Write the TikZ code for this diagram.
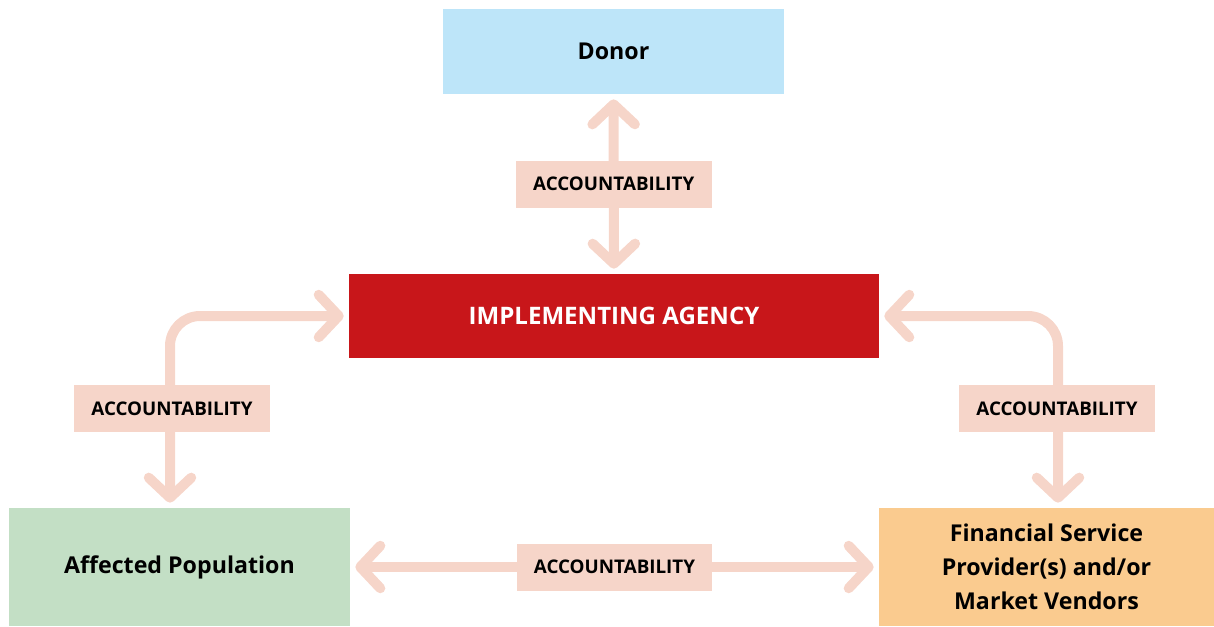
\documentclass[tikz,border=0pt]{standalone}
\usepackage{fontspec}
\setmainfont{Open Sans}
\usetikzlibrary{arrows.meta, positioning}

\definecolor{donorblue}{HTML}{BDE5F9}
\definecolor{agencyred}{HTML}{C8161A}
\definecolor{popgreen}{HTML}{C3DFC5}
\definecolor{fsporange}{HTML}{FACB8F}
\definecolor{accsalmon}{HTML}{F6D5C9}

\begin{document}
\begin{tikzpicture}[
      x=0.02cm, y=-0.02cm,
      box/.style={inner sep=0pt, align=center, font=\fontsize{13.2}{19.3}\selectfont\bfseries},
      lab/.style={fill=accsalmon, inner sep=0pt, minimum width=3.92cm, minimum height=0.94cm, font=\fontsize{10.7}{12}\selectfont\bfseries},
      arr/.style={{Straight Barb[length=0.4cm, width=0.85cm, round]}-{Straight Barb[length=0.4cm, width=0.85cm, round]}, line width=0.2cm, draw=accsalmon, shorten <=0.1cm, shorten >=0.1cm}
    ]
      \useasboundingbox (0,0) rectangle (1214,626);

      \node[box, fill=donorblue, minimum width=6.82cm, minimum height=1.7cm]  (donor)  at (613.5,51.5) {Donor};
      \node[box, fill=agencyred, text=white, minimum width=10.6cm, minimum height=1.68cm, font=\fontsize{13.7}{16}\selectfont\bfseries] (agency) at (614,316) {IMPLEMENTING AGENCY};
      \node[box, fill=popgreen, minimum width=6.82cm, minimum height=2.36cm]  (pop)    at (179.5,567) {Affected Population};
      \node[box, fill=fsporange, minimum width=6.7cm, minimum height=2.36cm]  (fsp)    at (1046.5,567) {Financial Service\\Provider(s) and/or\\Market Vendors};

      \coordinate (lcorner) at (170,316);
      \coordinate (rcorner) at (1058,316);

      \draw[arr] (donor) -- node[lab] (acctop) {ACCOUNTABILITY} (agency);
      \draw[arr, rounded corners=0.6cm] (agency.west) -- (lcorner) -- (lcorner |- pop.north);
      \draw[arr, rounded corners=0.6cm] (agency.east) -- (rcorner) -- (rcorner |- fsp.north);
      \draw[arr] (pop) -- node[lab] (accbottom) {ACCOUNTABILITY} (fsp);

      \node[lab] (accleft)  at (172,408.5)  {ACCOUNTABILITY};
      \node[lab] (accright) at (1057,408.5) {ACCOUNTABILITY};
    \end{tikzpicture}
\end{document}
